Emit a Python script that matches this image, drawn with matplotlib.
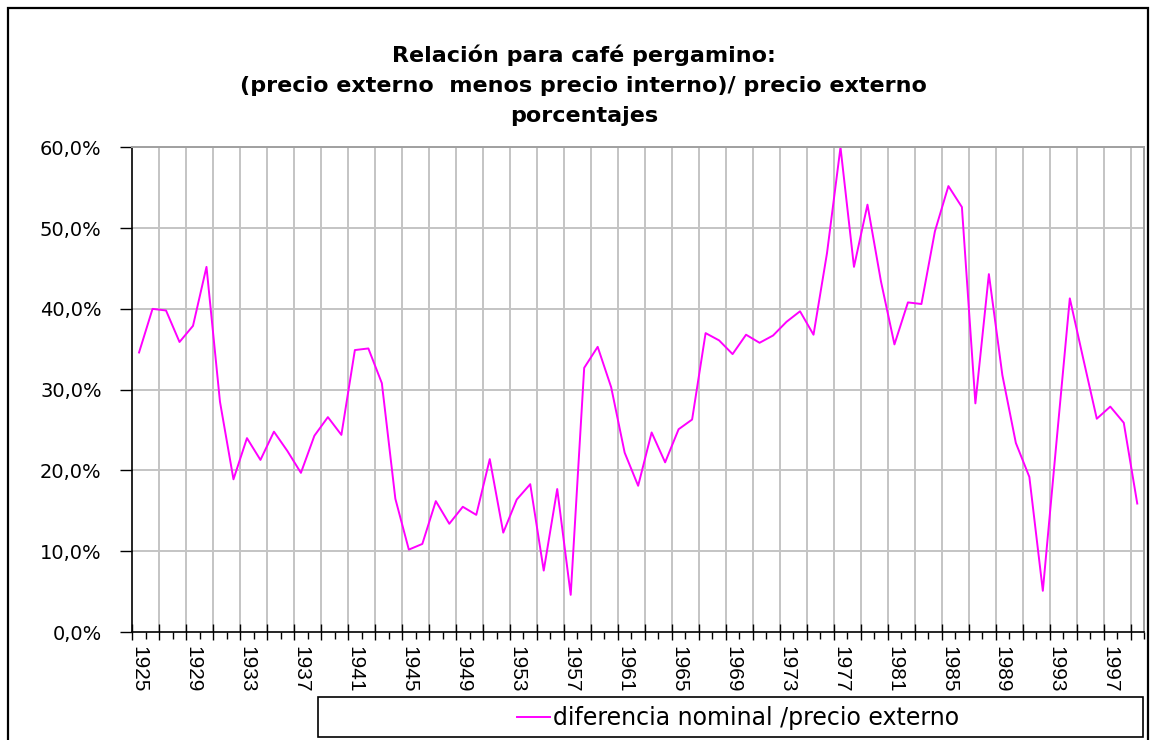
import matplotlib
matplotlib.use("Agg")
import matplotlib.pyplot as plt
from matplotlib.patches import Rectangle
from matplotlib import font_manager

years = list(range(1925, 2000))
values = [
    34.6, 40.0, 39.8, 35.9, 37.9, 45.2, 28.5, 18.9, 24.0, 21.3,   # 1925-1934
    24.8, 22.4, 19.7, 24.3, 26.6, 24.4, 34.9, 35.1, 30.8, 16.5,   # 1935-1944
    10.2, 10.9, 16.2, 13.4, 15.5, 14.5, 21.4, 12.3, 16.4, 18.3,   # 1945-1954
    7.6, 17.7, 4.6, 32.7, 35.3, 30.3, 22.2, 18.1, 24.7, 21.0,     # 1955-1964
    25.1, 26.3, 37.0, 36.1, 34.4, 36.8, 35.8, 36.7, 38.4, 39.7,   # 1965-1974
    36.8, 46.9, 60.0, 45.2, 52.9, 43.4, 35.6, 40.8, 40.6, 49.6,   # 1975-1984
    55.2, 52.6, 28.3, 44.3, 31.8, 23.4, 19.2, 5.1, 23.3, 41.3,    # 1985-1994
    33.8, 26.4, 27.9, 25.9, 15.9,                                 # 1995-1999
]
label_years = list(range(1925, 2000, 4))
ytick_vals = [0, 10, 20, 30, 40, 50, 60]
ytick_labels = ["0,0%", "10,0%", "20,0%", "30,0%", "40,0%", "50,0%", "60,0%"]
title_text = ("Relación para café pergamino:\n"
              "(precio externo  menos precio interno)/ precio externo\n"
              "porcentajes")
series_name = "diferencia nominal /precio externo"

avail = {f.name for f in font_manager.fontManager.ttflist}
base = "Liberation Sans" if "Liberation Sans" in avail else "DejaVu Sans"
narrow = "Liberation Sans Narrow" if "Liberation Sans Narrow" in avail else base
wide = ["DejaVu Sans"]
plt.rcParams['font.family'] = [base, 'DejaVu Sans']

W, H = 1156, 740
fig = plt.figure(figsize=(W / 100, H / 100), dpi=100)
fig.patch.set_facecolor("white")

x0, x1 = 132.3, 1144.0
y0, y1 = 147.3, 632.0
ax = fig.add_axes([x0 / W, 1 - y1 / H, (x1 - x0) / W, (y1 - y0) / H])

idx = list(range(len(years)))
ax.plot(idx, values, color="#FF00FF", linewidth=1.4, label=series_name)

n = len(years)
ax.set_xlim(-0.5, n - 0.5)
ax.set_ylim(0, 60)

# category boundaries
major_b = [i - 0.5 for i in range(0, n, 2)]
minor_b = [i - 0.5 for i in range(1, n + 1, 2)]
ax.set_xticks(major_b)
ax.set_xticks(minor_b, minor=True)
ax.tick_params(axis="x", which="major", direction="inout", length=12, width=1,
               color="black", labelbottom=False)
ax.tick_params(axis="x", which="minor", direction="out", length=5, width=1,
               color="black")
for b in major_b[1:]:
    ax.axvline(b, color="#c4c4c4", linewidth=1.4, zorder=0)
for v in ytick_vals[1:]:
    ax.axhline(v, color="#c4c4c4", linewidth=1.4, zorder=0)

ax.set_yticks(ytick_vals)
ax.set_yticklabels(ytick_labels, fontsize=14, family=wide)
ax.tick_params(axis="y", direction="out", length=9, width=1, pad=13, color="black")

for s in ("left", "bottom"):
    ax.spines[s].set_color("black")
    ax.spines[s].set_linewidth(1.2)
for s in ("top", "right"):
    ax.spines[s].set_color("#a0a0a0")
    ax.spines[s].set_linewidth(1.4)

sec = ax.secondary_xaxis("bottom")
sec.set_xticks([years.index(y) for y in label_years])
sec.set_xticklabels([str(y) for y in label_years], rotation=-90,
                    fontsize=15, family=[narrow, 'DejaVu Sans'])
sec.tick_params(length=0, pad=10)
sec.spines["bottom"].set_visible(False)

fig.text(0.505, 1 - 85 / H, title_text, ha="center", va="center",
         fontsize=16, fontweight="bold", linespacing=1.62, family=wide)

# legend box
fig.patches.append(Rectangle((318 / W, 1 - 737 / H), (1143 - 318) / W, 40 / H,
                             transform=fig.transFigure, fill=False,
                             edgecolor="black", linewidth=1.2))
fig.legend(loc="center", bbox_to_anchor=(738 / W, 1 - 718 / H), frameon=False,
           prop={"family": wide, "size": 17}, handlelength=1.4, handletextpad=0.15,
           borderpad=0, borderaxespad=0)

# outer chart border
fig.patches.append(Rectangle((8 / W, -0.05), (1148 - 8) / W, 1.05 - 8 / H,
                             transform=fig.transFigure, fill=False,
                             edgecolor="black", linewidth=1.6))

fig.savefig("out.png", dpi=100)
